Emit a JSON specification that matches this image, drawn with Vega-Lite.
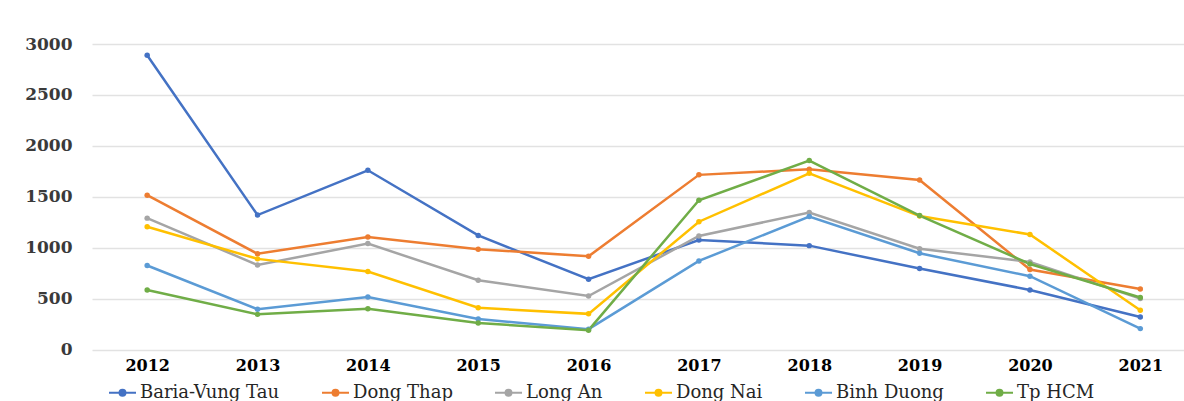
{
  "$schema": "https://vega.github.io/schema/vega-lite/v6.json",
  "width": 1092,
  "height": 305.5,
  "autosize": "none",
  "padding": {"left": 92, "top": 44, "right": 0, "bottom": 51.5},
  "background": "white",
  "config": {"view": {"stroke": null}, "font": "DejaVu Serif"},
  "data": {"values": [
    {"year": 2012, "region": "Baria-Vung Tau", "value": 2890},
    {"year": 2013, "region": "Baria-Vung Tau", "value": 1320},
    {"year": 2014, "region": "Baria-Vung Tau", "value": 1760},
    {"year": 2015, "region": "Baria-Vung Tau", "value": 1120},
    {"year": 2016, "region": "Baria-Vung Tau", "value": 690},
    {"year": 2017, "region": "Baria-Vung Tau", "value": 1075},
    {"year": 2018, "region": "Baria-Vung Tau", "value": 1020},
    {"year": 2019, "region": "Baria-Vung Tau", "value": 795},
    {"year": 2020, "region": "Baria-Vung Tau", "value": 585},
    {"year": 2021, "region": "Baria-Vung Tau", "value": 320},
    {"year": 2012, "region": "Dong Thap", "value": 1515},
    {"year": 2013, "region": "Dong Thap", "value": 940},
    {"year": 2014, "region": "Dong Thap", "value": 1105},
    {"year": 2015, "region": "Dong Thap", "value": 985},
    {"year": 2016, "region": "Dong Thap", "value": 915},
    {"year": 2017, "region": "Dong Thap", "value": 1715},
    {"year": 2018, "region": "Dong Thap", "value": 1770},
    {"year": 2019, "region": "Dong Thap", "value": 1665},
    {"year": 2020, "region": "Dong Thap", "value": 785},
    {"year": 2021, "region": "Dong Thap", "value": 595},
    {"year": 2012, "region": "Long An", "value": 1290},
    {"year": 2013, "region": "Long An", "value": 830},
    {"year": 2014, "region": "Long An", "value": 1040},
    {"year": 2015, "region": "Long An", "value": 680},
    {"year": 2016, "region": "Long An", "value": 525},
    {"year": 2017, "region": "Long An", "value": 1115},
    {"year": 2018, "region": "Long An", "value": 1345},
    {"year": 2019, "region": "Long An", "value": 990},
    {"year": 2020, "region": "Long An", "value": 860},
    {"year": 2021, "region": "Long An", "value": 500},
    {"year": 2012, "region": "Dong Nai", "value": 1205},
    {"year": 2013, "region": "Dong Nai", "value": 890},
    {"year": 2014, "region": "Dong Nai", "value": 765},
    {"year": 2015, "region": "Dong Nai", "value": 410},
    {"year": 2016, "region": "Dong Nai", "value": 350},
    {"year": 2017, "region": "Dong Nai", "value": 1255},
    {"year": 2018, "region": "Dong Nai", "value": 1730},
    {"year": 2019, "region": "Dong Nai", "value": 1310},
    {"year": 2020, "region": "Dong Nai", "value": 1130},
    {"year": 2021, "region": "Dong Nai", "value": 385},
    {"year": 2012, "region": "Binh Duong", "value": 825},
    {"year": 2013, "region": "Binh Duong", "value": 395},
    {"year": 2014, "region": "Binh Duong", "value": 515},
    {"year": 2015, "region": "Binh Duong", "value": 300},
    {"year": 2016, "region": "Binh Duong", "value": 200},
    {"year": 2017, "region": "Binh Duong", "value": 870},
    {"year": 2018, "region": "Binh Duong", "value": 1305},
    {"year": 2019, "region": "Binh Duong", "value": 945},
    {"year": 2020, "region": "Binh Duong", "value": 720},
    {"year": 2021, "region": "Binh Duong", "value": 205},
    {"year": 2012, "region": "Tp HCM", "value": 585},
    {"year": 2013, "region": "Tp HCM", "value": 345},
    {"year": 2014, "region": "Tp HCM", "value": 400},
    {"year": 2015, "region": "Tp HCM", "value": 260},
    {"year": 2016, "region": "Tp HCM", "value": 190},
    {"year": 2017, "region": "Tp HCM", "value": 1465},
    {"year": 2018, "region": "Tp HCM", "value": 1855},
    {"year": 2019, "region": "Tp HCM", "value": 1315},
    {"year": 2020, "region": "Tp HCM", "value": 840},
    {"year": 2021, "region": "Tp HCM", "value": 510}
  ]},
  "mark": {"type": "line", "strokeWidth": 2.5, "point": {"filled": true, "size": 30}},
  "encoding": {
    "x": {
      "field": "year", "type": "quantitative",
      "scale": {"domain": [2011.5, 2021.396], "nice": false, "zero": false},
      "axis": {
        "values": [2012, 2013, 2014, 2015, 2016, 2017, 2018, 2019, 2020, 2021],
        "format": "d", "grid": false, "domain": false, "ticks": false,
        "labelFont": "DejaVu Serif", "labelFontWeight": "bold", "labelFontSize": 16,
        "labelColor": "#000000", "labelPadding": 8, "title": null
      }
    },
    "y": {
      "field": "value", "type": "quantitative",
      "scale": {"domain": [0, 3000], "nice": false},
      "axis": {
        "values": [0, 500, 1000, 1500, 2000, 2500, 3000],
        "format": "d",
        "grid": true, "gridColor": "#e2e2e2", "gridWidth": 1.5,
        "domain": false, "ticks": false, "labelPadding": 20,
        "labelFont": "DejaVu Serif", "labelFontSize": 17, "labelFontWeight": "bold",
        "labelColor": "#3a3a3a",
        "title": null
      }
    },
    "color": {
      "field": "region", "type": "nominal",
      "scale": {
        "domain": ["Baria-Vung Tau", "Dong Thap", "Long An", "Dong Nai", "Binh Duong", "Tp HCM"],
        "range": ["#4472C4", "#ED7D31", "#A5A5A5", "#FFC000", "#5B9BD5", "#70AD47"]
      },
      "legend": {
        "orient": "none", "legendX": 16, "legendY": 334, "direction": "horizontal",
        "title": null,
        "symbolType": "M-1,0H1M-0.22,0A0.22,0.22,0,1,1,0.22,0A0.22,0.22,0,1,1,-0.22,0",
        "symbolSize": 729, "symbolStrokeWidth": 2,
        "labelFont": "DejaVu Serif", "labelFontSize": 18, "labelColor": "#262626",
        "labelOffset": 3, "labelLimit": 300, "columnPadding": 38
      }
    }
  }
}
